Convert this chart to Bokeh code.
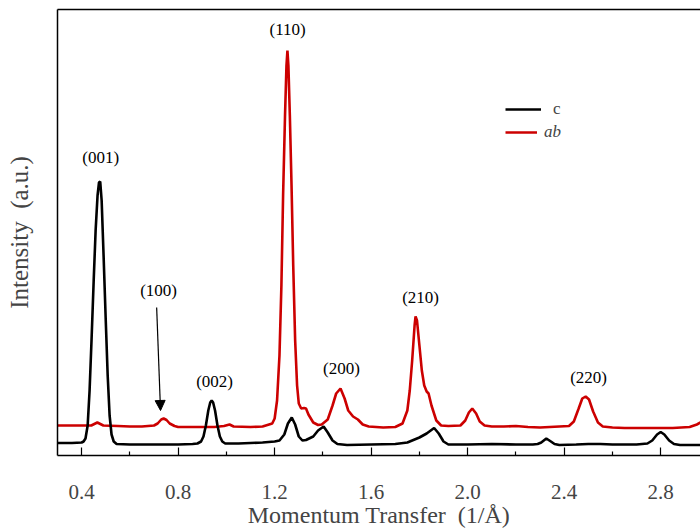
from bokeh.plotting import figure
from bokeh.models import (Range1d, FixedTicker, LinearAxis, Legend, LegendItem,
                          Arrow, NormalHead, ColumnDataSource)
from bokeh.core.properties import value
from bokeh.embed import file_html
from bokeh.resources import INLINE

# ---- data ----
q_c = [0.30, 0.36, 0.40, 0.408, 0.416, 0.425, 0.433, 0.441, 0.450, 0.458, 0.466, 0.472,
       0.477, 0.483, 0.491, 0.500, 0.508, 0.516, 0.524, 0.533, 0.545, 0.60, 0.70, 0.80,
       0.86, 0.88, 0.895, 0.905, 0.915, 0.925, 0.933, 0.939, 0.945, 0.953, 0.963, 0.973,
       0.983, 0.995, 1.05, 1.10, 1.15, 1.20, 1.22, 1.24, 1.255, 1.271, 1.285, 1.30, 1.315,
       1.33, 1.36, 1.38, 1.403, 1.42, 1.44, 1.46, 1.50, 1.60, 1.70, 1.75, 1.78, 1.80,
       1.83, 1.861, 1.88, 1.90, 1.92, 2.00, 2.10, 2.20, 2.27, 2.29, 2.305, 2.326, 2.345,
       2.36, 2.38, 2.45, 2.50, 2.55, 2.60, 2.70, 2.745, 2.765, 2.785, 2.80, 2.815, 2.835,
       2.855, 2.88, 2.965]
i_c = [12.5, 12.5, 13, 14, 17, 30, 65, 115, 175, 225, 260, 273,
       274, 255, 200, 135, 80, 40, 21, 14, 11.5, 11, 11, 11,
       11.5, 12, 14, 19, 30, 45, 53, 55, 53, 45, 30, 19,
       14, 12, 12, 12.5, 13, 14, 15, 21, 32, 38, 31, 19, 15,
       15.5, 19, 25, 29, 23, 15, 11.5, 10.5, 11, 11.5, 13, 16, 18,
       22, 27.5, 22, 14, 11, 11, 11.5, 11, 11, 11.5, 13, 17, 14,
       11.5, 10.5, 11, 11.5, 11.5, 11, 11, 12, 15, 21, 23.5, 21, 15,
       11.5, 10.5, 10.5]

q_ab = [0.30, 0.40, 0.44, 0.465, 0.49, 0.55, 0.60, 0.65, 0.70, 0.715, 0.73, 0.74, 0.752,
        0.765, 0.785, 0.80, 0.90, 0.95, 0.99, 1.013, 1.03, 1.10, 1.15, 1.19, 1.20, 1.21,
        1.22, 1.228, 1.235, 1.243, 1.249, 1.253, 1.257, 1.263, 1.270, 1.277, 1.285, 1.293,
        1.30, 1.31, 1.322, 1.33, 1.34, 1.36, 1.38, 1.395, 1.42, 1.44, 1.455, 1.473, 1.49,
        1.505, 1.525, 1.545, 1.565, 1.59, 1.65, 1.70, 1.73, 1.75, 1.76, 1.77, 1.78, 1.784,
        1.79, 1.80, 1.81, 1.82, 1.83, 1.838, 1.85, 1.87, 1.89, 1.92, 1.97, 1.99, 2.005,
        2.019, 2.035, 2.05, 2.07, 2.10, 2.15, 2.20, 2.25, 2.30, 2.42, 2.44, 2.46, 2.475,
        2.489, 2.503, 2.52, 2.54, 2.56, 2.60, 2.65, 2.75, 2.85, 2.92, 2.95, 2.965]
i_ab = [30, 30, 30, 33, 30, 29.5, 29, 29, 30, 32, 36, 37, 35.5,
        32, 29.5, 28.5, 28.5, 28.5, 29.5, 31, 29, 28.5, 29, 32, 37, 55,
        100, 170, 260, 340, 390, 405, 390, 340, 270, 190, 115, 70,
        52, 47, 47.5, 47, 41, 33, 30.5, 31, 36, 50, 62, 67, 57,
        45, 39, 36, 31, 29, 28, 28.5, 32, 45, 65, 95, 130, 139,
        135, 110, 85, 70, 64, 62, 50, 35, 30, 29.5, 30, 35, 43,
        47, 42, 34, 30, 29, 29, 29.5, 28.5, 28, 29.5, 34, 47, 57,
        59, 56, 44, 33, 29, 28, 27.5, 27.5, 27.5, 28.5, 31, 33]

peak_labels = ["(001)", "(100)", "(002)", "(110)", "(200)", "(210)", "(220)"]
label_q = [0.479, 0.719, 0.951, 1.254, 1.477, 1.805, 2.501]
label_i = [298, 165, 74, 426, 87, 158, 78]

major_ticks = [0.4, 0.8, 1.2, 1.6, 2.0, 2.4, 2.8]
minor_ticks = [0.6, 1.0, 1.4, 1.8, 2.2, 2.6]

SERIF = "Liberation Serif"
RED = "#cc0000"

p = figure(width=700, height=531, output_backend="svg", toolbar_location=None,
           x_range=Range1d(0.3, 2.965), y_range=Range1d(0, 446),
           min_border_left=57, min_border_right=0, min_border_top=9,
           min_border_bottom=76, background_fill_color="white",
           border_fill_color="white", outline_line_color=None)
p.grid.visible = False

r_ab = p.line(q_ab, i_ab, line_color=RED, line_width=2.6)
r_c = p.line(q_c, i_c, line_color="black", line_width=2.6)

src = ColumnDataSource(dict(x=label_q, y=label_i, t=peak_labels))
p.text("x", "y", text="t", source=src, text_align="center", text_baseline="middle",
       text_font=value(SERIF), text_font_size="17px", text_color="black")

p.add_layout(Arrow(end=NormalHead(size=10, fill_color="black", line_color="black"),
                   x_start=0.711, y_start=148, x_end=0.727, y_end=45,
                   line_color="black", line_width=1.2))

xa = p.xaxis[0]
xa.ticker = FixedTicker(ticks=major_ticks, minor_ticks=minor_ticks)
xa.major_label_overrides = {t: f"{t:.1f}" for t in major_ticks}
xa.major_tick_in = 8
xa.major_tick_out = 0
xa.minor_tick_in = 4
xa.minor_tick_out = 0
xa.axis_line_width = 1.5
xa.major_tick_line_width = 1.2
xa.minor_tick_line_width = 1.2
xa.major_label_text_font = SERIF
xa.major_label_text_font_size = "21px"
xa.major_label_standoff = 29
xa.axis_label = "Momentum Transfer\u00a0 (1/\u00c5)"
xa.axis_label_text_font = SERIF
xa.axis_label_text_font_style = "normal"
xa.axis_label_text_font_size = "24px"
xa.axis_label_standoff = 0

ya = p.yaxis[0]
ya.ticker = FixedTicker(ticks=[])
ya.major_tick_line_color = None
ya.minor_tick_line_color = None
ya.major_label_text_font_size = "0px"
ya.axis_line_width = 1.5
ya.axis_label = "Intensity\u00a0 (a.u.)"
ya.axis_label_text_font = SERIF
ya.axis_label_text_font_style = "normal"
ya.axis_label_text_font_size = "25px"
ya.axis_label_standoff = 25

top = LinearAxis(ticker=FixedTicker(ticks=[]), major_tick_line_color=None,
                 minor_tick_line_color=None, major_label_text_font_size="0px",
                 major_label_standoff=0, axis_line_width=1.5)
p.add_layout(top, "above")

leg1 = Legend(items=[LegendItem(label="c", renderers=[r_c])], location=(448, 336),
              glyph_width=36, glyph_height=14, label_height=14, label_standoff=12,
              padding=0, margin=0, border_line_color=None, background_fill_alpha=0,
              label_text_font=SERIF, label_text_font_size="17px")
leg2 = Legend(items=[LegendItem(label="ab", renderers=[r_ab])], location=(448, 313),
              glyph_width=32, glyph_height=14, label_height=14, label_standoff=7,
              padding=0, margin=0, border_line_color=None, background_fill_alpha=0,
              label_text_font=SERIF, label_text_font_size="17px",
              label_text_font_style="italic")
p.add_layout(leg1)
p.add_layout(leg2)

open("out.html", "w").write(file_html(p, INLINE))
